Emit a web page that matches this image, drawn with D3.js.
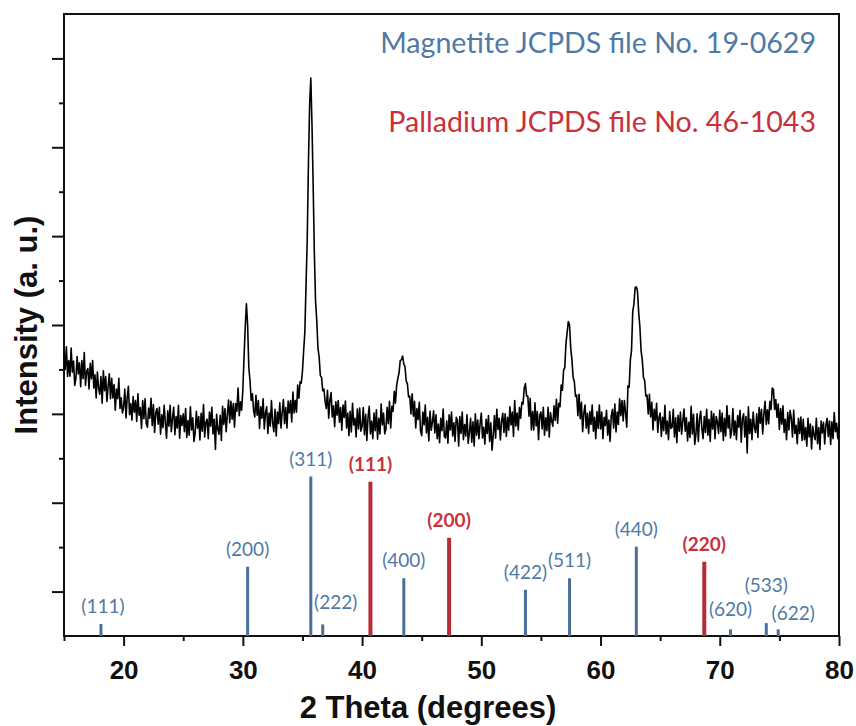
<!DOCTYPE html>
<html>
<head>
<meta charset="utf-8">
<script src="https://cdn.jsdelivr.net/npm/d3@7"></script>
<style>
  body { margin: 0; background: #fff; }
</style>
</head>
<body>
<div id="chart"></div>
<script>
// XRD scan, 2 theta from 15 to 80 in 0.1 degree steps
const thetaStart = 15;
const thetaStep = 0.1;
const intensity = [
  642,600,651,584,620,585,648,594,619,564,
  580,629,590,615,561,620,579,638,564,596,
  602,556,614,579,620,558,588,536,594,558,
  544,584,524,597,552,584,528,562,590,534,
  580,536,566,508,556,534,580,512,536,502,
  515,556,491,536,562,498,523,486,539,504,
  530,483,545,497,514,467,530,489,534,478,
  470,513,490,535,474,521,458,503,512,477,
  515,454,498,469,519,480,445,507,472,519,
  460,490,515,453,494,468,519,445,496,474,
  500,460,512,447,485,452,516,464,491,438,
  456,506,468,494,441,501,461,521,448,481,
  488,444,504,472,515,455,488,420,499,465,
  454,497,440,517,476,512,460,498,531,480,
  528,488,523,470,523,506,558,496,527,508,
  555,628,695,748,700,605,575,530,545,508,
  493,542,497,530,467,516,490,534,466,502,
  516,456,502,472,530,480,460,510,450,504,
  478,525,468,503,532,478,514,468,529,502,
  530,482,549,502,530,504,565,535,572,569,
  596,642,684,790,892,1062,1194,1256,1150,1010,
  858,752,710,648,628,586,582,552,556,528,
  512,553,490,531,548,493,518,471,527,497,
  530,481,514,463,520,492,529,468,502,451,
  506,459,524,475,490,448,511,466,513,461,
  472,514,453,499,440,492,517,455,484,444,
  502,462,509,443,490,455,522,475,502,455,
  465,515,478,528,468,517,506,551,524,564,
  580,592,620,622,630,612,606,574,568,538,
  540,500,545,495,528,468,512,487,526,462,
  451,504,475,520,457,492,439,506,463,482,
  507,457,498,444,477,435,490,462,511,449,
  446,484,434,498,464,504,450,480,438,492,
  486,428,494,456,504,442,476,450,498,434,
  458,490,436,482,428,500,452,486,444,478,
  502,446,470,432,488,456,496,438,480,418,
  451,496,445,510,465,490,441,484,501,458,
  500,449,492,463,516,475,504,449,530,473,
  502,464,514,490,526,522,558,568,540,540,
  495,535,464,505,464,525,473,505,442,497,
  504,466,515,452,491,462,515,448,503,484,
  472,518,485,533,479,524,516,565,553,598,
  604,658,684,708,700,648,622,582,573,539,
  542,496,544,489,526,460,501,520,468,501,
  456,505,476,520,461,492,444,505,467,520,
  466,504,444,492,474,508,452,486,438,496,
  510,468,522,459,504,476,534,496,530,484,
  530,502,470,563,560,621,643,730,747,784,
  786,776,728,696,642,622,582,575,540,542,
  500,544,493,526,464,510,485,524,458,492,
  502,449,492,462,519,455,484,442,505,467,
  470,510,448,491,435,497,461,504,454,484,
  511,461,491,439,481,447,517,455,499,431,
  454,500,438,488,506,466,444,494,458,510,
  452,488,438,506,466,500,444,494,482,456,
  508,460,502,440,490,450,518,468,496,446,
  462,512,452,484,442,496,470,508,436,490,
  500,448,494,412,516,456,488,442,504,470,
  458,500,447,514,479,510,455,500,528,476,
  509,478,528,510,558,555,510,532,492,522,
  465,512,477,518,458,488,442,503,464,508,
  490,448,508,456,474,433,490,456,493,440,
  488,442,469,427,490,448,477,421,472,452,
  442,490,433,469,420,484,457,481,432,474,
  490,449,484,431,482,444,503,460,479,444,
  478
];

// reference patterns (stick positions and heights)
const magHkl = ["(111)","(200)","(311)","(222)","(400)","(422)","(511)","(440)","(620)","(533)","(622)"];
const magTheta = [18.1, 30.4, 35.7, 36.7, 43.5, 53.7, 57.4, 63.0, 70.9, 73.9, 74.9];
const magHeight = [27, 156, 359, 26, 130, 104, 130, 201, 15, 29, 15];

const pdHkl = ["(111)","(200)","(220)"];
const pdTheta = [40.7, 47.3, 68.7];
const pdHeight = [347, 221, 167];

const xMajor = [20, 30, 40, 50, 60, 70, 80];
const xMinor = [15, 25, 35, 45, 55, 65, 75];
const yMajor = [100, 300, 500, 700, 900, 1100, 1300];
const yMinor = [200, 400, 600, 800, 1000, 1200];

const magLegend = "Magnetite JCPDS file No. 19-0629";
const pdLegend = "Palladium JCPDS file No. 46-1043";

const blueText = "#5079a6", blueStick = "#4a6f98";
const redText = "#c8313b", redStick = "#b52c36";

let margin = {top: 14, right: 17, bottom: 90, left: 64};
let W = 856, H = 726;
let w = W - margin.left - margin.right;
let h = H - margin.top - margin.bottom;

let svg = d3.select("#chart").append("svg")
  .attr("width", W)
  .attr("height", H);

let g = svg.append("g")
  .attr("transform", `translate(${margin.left}, ${margin.top})`);

let x = d3.scaleLinear().domain([15, 80]).range([0, w]);
let y = d3.scaleLinear().domain([0, 1400]).range([h, 0]);

// axes
let xAxis = g.append("g")
  .attr("transform", `translate(0, ${h})`)
  .call(d3.axisBottom(x).tickValues(xMajor).tickSize(10).tickPadding(15).tickFormat(d3.format("d")));
g.append("g")
  .attr("transform", `translate(0, ${h})`)
  .call(d3.axisBottom(x).tickValues(xMinor).tickSize(5).tickFormat(""));
g.append("g")
  .call(d3.axisLeft(y).tickValues(yMajor).tickSize(12).tickFormat(""));
g.append("g")
  .call(d3.axisLeft(y).tickValues(yMinor).tickSize(5).tickFormat(""));

g.selectAll(".domain").remove();
g.selectAll(".tick line").attr("stroke", "#111").attr("stroke-width", 2);
xAxis.selectAll("text")
  .attr("font-family", "Liberation Sans, Arial, sans-serif")
  .attr("font-weight", "bold")
  .attr("font-size", "26px")
  .attr("fill", "#111");

// frame
g.append("rect")
  .attr("x", 0).attr("y", 0)
  .attr("width", w).attr("height", h)
  .attr("fill", "none")
  .attr("stroke", "#111")
  .attr("stroke-width", 2);

// scan
let line = d3.line()
  .x((d, i) => x(thetaStart + i * thetaStep))
  .y(d => y(d));

g.append("path")
  .datum(intensity)
  .attr("d", line)
  .attr("fill", "none")
  .attr("stroke", "#000")
  .attr("stroke-width", 1.6)
  .attr("stroke-linejoin", "round");

// sticks
function drawSticks(theta, height, hkl, stickColor, textColor, bold, width, shift) {
  let data = theta.map((t, i) => ({t: t, v: height[i], label: hkl[i]}));
  g.append("g").selectAll("line")
    .data(data)
    .enter()
    .append("line")
    .attr("x1", d => x(d.t)).attr("x2", d => x(d.t))
    .attr("y1", y(0)).attr("y2", d => y(d.v))
    .attr("stroke", stickColor)
    .attr("stroke-width", width);

  g.append("g").selectAll("text")
    .data(data)
    .enter()
    .append("text")
    .text(d => d.label)
    .attr("x", (d, i) => x(d.t) + (shift[i] ? shift[i][0] : 0))
    .attr("y", (d, i) => y(d.v) - 11 + (shift[i] ? shift[i][1] : 0))
    .attr("text-anchor", "middle")
    .attr("font-family", "Lato, sans-serif")
    .attr("font-weight", bold ? "bold" : "normal")
    .attr("font-size", "19px")
    .attr("fill", textColor);
}

// label nudges where they would collide
let magShift = {0: [2, 0], 3: [13, -4], 8: [0, -2], 9: [0, -20], 10: [15, 2]};
drawSticks(magTheta, magHeight, magHkl, blueStick, blueText, false, 3, magShift);
drawSticks(pdTheta, pdHeight, pdHkl, redStick, redText, true, 4, {});

// legend text
g.append("text")
  .attr("x", 752).attr("y", 39)
  .attr("text-anchor", "end")
  .attr("font-family", "Lato, sans-serif")
  .attr("font-size", "28.6px")
  .attr("fill", blueText)
  .text(magLegend);

g.append("text")
  .attr("x", 752).attr("y", 118)
  .attr("text-anchor", "end")
  .attr("font-family", "Lato, sans-serif")
  .attr("font-size", "28.6px")
  .attr("fill", redText)
  .text(pdLegend);

// axis titles
svg.append("text")
  .attr("x", 428).attr("y", 718)
  .attr("text-anchor", "middle")
  .attr("font-family", "Liberation Sans, Arial, sans-serif")
  .attr("font-weight", "bold")
  .attr("font-size", "31px")
  .attr("fill", "#111")
  .text("2 Theta (degrees)");

svg.append("text")
  .attr("transform", "translate(37, 325) rotate(-90)")
  .attr("text-anchor", "middle")
  .attr("font-family", "Liberation Sans, Arial, sans-serif")
  .attr("font-weight", "bold")
  .attr("font-size", "31px")
  .attr("fill", "#111")
  .text("Intensity (a. u.)");
</script>
</body>
</html>
